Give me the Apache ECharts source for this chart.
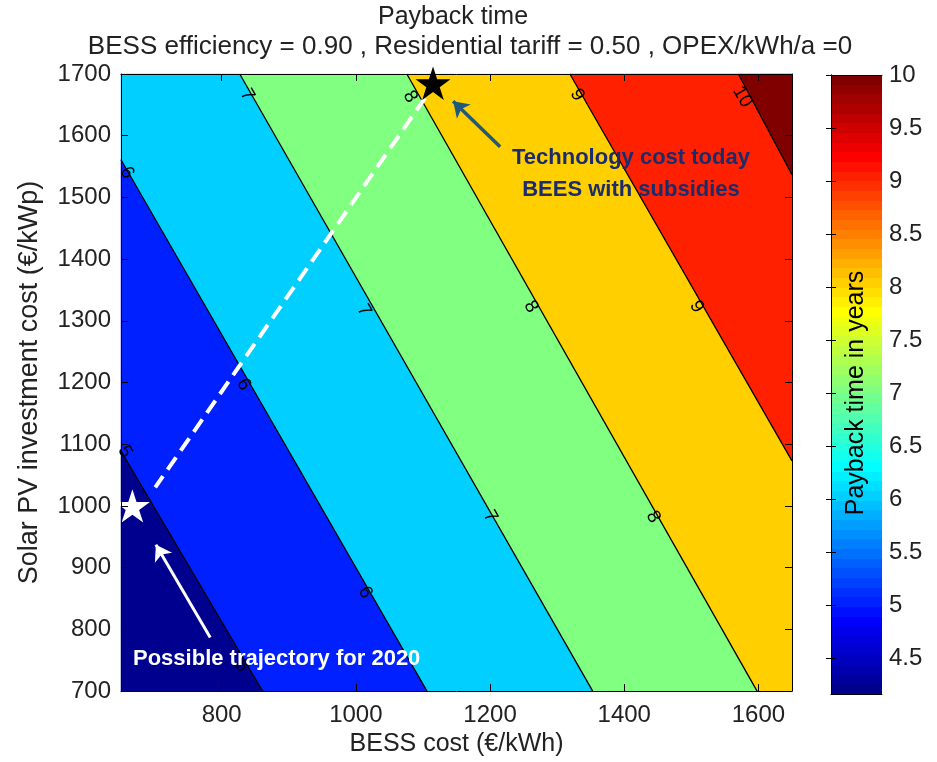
<!DOCTYPE html>
<html><head><meta charset="utf-8">
<script src="https://cdn.jsdelivr.net/npm/echarts@6/dist/echarts.min.js"></script>
<style>html,body{margin:0;padding:0;background:#fff}#c{width:937px;height:762px}</style>
</head><body><div id="c"></div>
<script>
// ---------------- data ----------------
const bessRange = [650, 1650];          // BESS cost (€/kWh)
const pvRange = [700, 1700];            // Solar PV investment cost (€/kWp)
const xTicks = [800, 1000, 1200, 1400, 1600];
const yTicks = [700, 800, 900, 1000, 1100, 1200, 1300, 1400, 1500, 1600, 1700];
const colorbarRange = [4.16, 10];
const colorbarTicks = [4.5, 5, 5.5, 6, 6.5, 7, 7.5, 8, 8.5, 9, 9.5, 10];
const contourLevels = [5, 6, 7, 8, 9, 10];
// contour lines (start on left/top edge, end on bottom/right edge)
const contour5 = [[650, 1089], [861, 700]];
const contour6 = [[650, 1561], [1106, 700]];
const contour7 = [[827, 1700], [1353, 700]];
const contour8 = [[1076, 1700], [1598, 700]];
const contour9 = [[1319, 1700], [1650, 1073]];
const contour10 = [[1570, 1700], [1650, 1537]];
// contour labels: [BESS cost, PV cost, level]
const contourLabels = [
  [656, 1088, 5], [830, 741, 5],
  [659, 1540, 6], [833, 1197, 6], [1014, 860, 6],
  [838, 1666, 7], [1012, 1317, 7], [1200, 983, 7],
  [1081, 1663, 8], [1261, 1323, 8], [1443, 982, 8],
  [1330, 1666, 9], [1508, 1323, 9],
  [1576, 1663, 10]
];
const todayPoint = [1115, 1685];
const point2020 = [667, 1000];
const trajectory = [[1103, 1661], [701, 1030]];
const arrowToday = [[1215, 1582], [1145, 1656]];
const arrow2020 = [[783, 787], [702, 937]];
const noteTodayPos = [1410, 1538];
const note2020Pos = [882, 752];
const noteToday = 'Technology cost today\nBEES with subsidies';
const note2020 = 'Possible trajectory for 2020';
const titleLine1 = 'Payback time';
const titleLine2 = 'BESS efficiency = 0.90 , Residential tariff = 0.50 , OPEX/kWh/a =0';

// ---------------- helpers ----------------
function jet(m) {
  const n = Math.ceil(m / 4), u = [];
  for (let k = 1; k <= n; k++) u.push(k / n);
  for (let k = 1; k < n; k++) u.push(1);
  for (let k = n; k >= 1; k--) u.push(k / n);
  const g0 = Math.ceil(n / 2) - (m % 4 === 1 ? 1 : 0);
  const J = Array.from({length: m}, () => [0, 0, 0]);
  for (let k = 0; k < u.length; k++) {
    const g = g0 + k + 1, r = g + n, b = g - n;
    if (r <= m) J[r - 1][0] = u[k];
    if (g <= m) J[g - 1][1] = u[k];
    if (b > 0 && b <= m) J[b - 1][2] = u[k];
  }
  return J.map(c => 'rgb(' + c.map(v => Math.round(v * 255)).join(',') + ')');
}
const CMAP = jet(64);
function cmapColor(v) {
  const t = (v - colorbarRange[0]) / (colorbarRange[1] - colorbarRange[0]);
  const idx = Math.min(64, Math.floor(t * 64) + 1);
  return CMAP[Math.max(1, idx) - 1];
}

const [X0, X1] = bessRange, [Y0, Y1] = pvRange;
const W = X1 - X0, H = Y1 - Y0, TOTAL = 2 * (W + H);
const corners = [
  {p: 0, pt: [X0, Y0]}, {p: W, pt: [X1, Y0]},
  {p: W + H, pt: [X1, Y1]}, {p: 2 * W + H, pt: [X0, Y1]}
];
function perim(pt) {
  const [x, y] = pt, e = 1e-6;
  if (Math.abs(y - Y0) < e) return x - X0;
  if (Math.abs(x - X1) < e) return W + (y - Y0);
  if (Math.abs(y - Y1) < e) return W + H + (X1 - x);
  return 2 * W + H + (Y1 - y);
}
function walk(pa, pb) {
  const d = ((pb - pa) % TOTAL + TOTAL) % TOTAL;
  return corners.map(c => ({dc: ((c.p - pa) % TOTAL + TOTAL) % TOTAL, pt: c.pt}))
    .filter(c => c.dc > 0 && c.dc < d).sort((a, b) => a.dc - b.dc).map(c => c.pt);
}
const contours = [contour5, contour6, contour7, contour8, contour9, contour10];
const bandPolygons = [], bandColors = [];
for (let i = 0; i <= contours.length; i++) {
  const L = i > 0 ? contours[i - 1] : null;
  const U = i < contours.length ? contours[i] : null;
  let poly;
  if (L && U) {
    poly = [...L, ...walk(perim(L[L.length - 1]), perim(U[U.length - 1])),
            ...U.slice().reverse(), ...walk(perim(U[0]), perim(L[0]))];
  } else if (U) {
    poly = [...U.slice().reverse(), ...walk(perim(U[0]), perim(U[U.length - 1]))];
  } else {
    poly = [...L, ...walk(perim(L[L.length - 1]), perim(L[0]))];
  }
  bandPolygons.push(poly);
  bandColors.push(cmapColor(i === 0 ? colorbarRange[0] : contourLevels[i - 1]));
}

const FONT = 'Liberation Sans, Arial, Helvetica, sans-serif';
const TXT = '#222';
const STAR = 'path://M50,0 L61.2,34.5 L97.6,34.5 L68.2,55.9 L79.4,90.5 L50,69.1 L20.6,90.5 L31.8,55.9 L2.4,34.5 L38.8,34.5 Z';
const plain = v => String(v);

const gradStops = [];
CMAP.forEach((c, i) => { gradStops.push({offset: i / 64, color: c}); gradStops.push({offset: (i + 1) / 64, color: c}); });

const chart = echarts.init(document.getElementById('c'), null, {renderer: 'canvas'});
const tickCommon = {show: true, inside: true, length: 7, lineStyle: {color: '#000', width: 1}};
const lineCommon = {show: true, lineStyle: {color: '#000', width: 1}};

const series = [
  {
    type: 'custom', xAxisIndex: 0, yAxisIndex: 0, clip: false, z: 1,
    data: bandPolygons.map((p, i) => [X0, Y0, i]),
    renderItem: (params, api) => {
      const poly = bandPolygons[params.dataIndex];
      return {type: 'polygon', shape: {points: poly.map(p => api.coord(p))},
        style: {fill: bandColors[params.dataIndex], stroke: bandColors[params.dataIndex], lineWidth: 0.5}};
    }
  }
];
contours.forEach(c => series.push({
  type: 'line', xAxisIndex: 0, yAxisIndex: 0, data: c, symbol: 'none', z: 3,
  lineStyle: {color: '#000', width: 1.3}, silent: true
}));
series.push({
  type: 'scatter', xAxisIndex: 0, yAxisIndex: 0, data: contourLabels, symbolSize: 1, z: 4, clip: false,
  itemStyle: {color: 'rgba(0,0,0,0)', opacity: 1},
  label: {show: true, position: 'inside', rotate: -60, formatter: p => String(p.value[2]),
    fontSize: 19, color: '#000', fontFamily: FONT}
});
series.push({
  type: 'line', xAxisIndex: 0, yAxisIndex: 0, data: trajectory, symbol: 'none', z: 5,
  lineStyle: {color: '#fff', width: 4, type: [15, 8], opacity: 1}
});
series.push({
  type: 'lines', coordinateSystem: 'cartesian2d', xAxisIndex: 0, yAxisIndex: 0, z: 6,
  symbol: ['none', 'arrow'], symbolSize: 15,
  data: [
    {coords: arrow2020, lineStyle: {color: '#fff', width: 3, opacity: 1}},
    {coords: arrowToday, lineStyle: {color: '#1f5a7c', width: 3.5, opacity: 1}}
  ]
});
series.push({
  type: 'scatter', xAxisIndex: 0, yAxisIndex: 0, z: 7, clip: false, symbol: STAR, symbolSize: 35,
  symbolKeepAspect: true,
  data: [{value: todayPoint, itemStyle: {color: '#000', opacity: 1}},
         {value: point2020, itemStyle: {color: '#fff', opacity: 1}}]
});
series.push({
  type: 'scatter', xAxisIndex: 0, yAxisIndex: 0, z: 8, clip: false, symbolSize: 1,
  itemStyle: {color: 'rgba(0,0,0,0)', opacity: 1},
  data: [
    {value: noteTodayPos, label: {formatter: noteToday, color: '#1b2c6c', lineHeight: 32}},
    {value: note2020Pos, label: {formatter: note2020, color: '#fff'}}
  ],
  label: {show: true, position: 'inside', fontSize: 22, fontWeight: 'bold', fontFamily: FONT, align: 'center'}
});
// colorbar
series.push({
  type: 'custom', xAxisIndex: 2, yAxisIndex: 2, clip: false, z: 1,
  data: [[0, colorbarRange[0]]],
  renderItem: (params, api) => {
    const a = api.coord([0, colorbarRange[0]]), b = api.coord([1, colorbarRange[1]]);
    return {type: 'rect', shape: {x: a[0], y: b[1], width: b[0] - a[0], height: a[1] - b[1]},
      style: {fill: new echarts.graphic.LinearGradient(0, 1, 0, 0, gradStops)}};
  }
});
series.push({
  type: 'scatter', xAxisIndex: 2, yAxisIndex: 2, z: 5, symbolSize: 1, clip: false,
  itemStyle: {color: 'rgba(0,0,0,0)', opacity: 1},
  data: [[0.5, 7.0]],
  label: {show: true, position: 'inside', rotate: 90, formatter: 'Payback time in years',
    fontSize: 25, color: '#000', fontFamily: FONT}
});

const option = {
  animation: false,
  backgroundColor: '#fff',
  title: [
    {text: titleLine1, left: 453, top: 5, padding: 0, textAlign: 'center',
     textStyle: {fontSize: 25, fontWeight: 'normal', color: TXT, fontFamily: FONT}},
    {text: titleLine2, left: 470, top: 34, padding: 0, textAlign: 'center',
     textStyle: {fontSize: 26, fontWeight: 'normal', color: TXT, fontFamily: FONT}}
  ],
  grid: [
    {left: 121, right: 145, top: 74, bottom: 70, show: false},
    {left: 831, width: 51, top: 75, height: 619, show: false}
  ],
  xAxis: [
    {type: 'value', gridIndex: 0, min: X0, max: X1, position: 'bottom',
     name: 'BESS cost (€/kWh)', nameLocation: 'middle', nameGap: 38,
     nameTextStyle: {fontSize: 25, color: TXT, fontFamily: FONT},
     axisLine: lineCommon, axisTick: Object.assign({customValues: xTicks}, tickCommon),
     axisLabel: {customValues: xTicks, formatter: plain, fontSize: 24, color: TXT, fontFamily: FONT, margin: 12},
     splitLine: {show: false}, z: 10},
    {type: 'value', gridIndex: 0, min: X0, max: X1, position: 'top',
     axisLine: lineCommon, axisTick: Object.assign({customValues: xTicks}, tickCommon),
     axisLabel: {show: false}, splitLine: {show: false}, z: 10},
    {type: 'value', gridIndex: 1, min: 0, max: 1, position: 'bottom',
     axisLine: lineCommon, axisTick: {show: false}, axisLabel: {show: false}, splitLine: {show: false}, z: 10},
    {type: 'value', gridIndex: 1, min: 0, max: 1, position: 'top',
     axisLine: lineCommon, axisTick: {show: false}, axisLabel: {show: false}, splitLine: {show: false}, z: 10}
  ],
  yAxis: [
    {type: 'value', gridIndex: 0, min: Y0, max: Y1, interval: 100, position: 'left',
     name: 'Solar PV investment cost (€/kWp)', nameLocation: 'middle', nameGap: 78, nameRotate: 90,
     nameTextStyle: {fontSize: 27, color: TXT, fontFamily: FONT},
     axisLine: lineCommon, axisTick: tickCommon,
     axisLabel: {customValues: yTicks, formatter: plain, fontSize: 24, color: TXT, fontFamily: FONT, margin: 10},
     splitLine: {show: false}, z: 10},
    {type: 'value', gridIndex: 0, min: Y0, max: Y1, interval: 100, position: 'right',
     axisLine: lineCommon, axisTick: tickCommon, axisLabel: {show: false}, splitLine: {show: false}, z: 10},
    {type: 'value', gridIndex: 1, min: colorbarRange[0], max: colorbarRange[1], position: 'right',
     axisLine: lineCommon, axisTick: Object.assign({customValues: colorbarTicks}, tickCommon, {length: 5}),
     axisLabel: {customValues: colorbarTicks, formatter: plain, fontSize: 24, color: TXT, fontFamily: FONT, margin: 7},
     splitLine: {show: false}, z: 10},
    {type: 'value', gridIndex: 1, min: colorbarRange[0], max: colorbarRange[1], position: 'left',
     axisLine: lineCommon, axisTick: Object.assign({customValues: colorbarTicks}, tickCommon, {length: 5}),
     axisLabel: {show: false}, splitLine: {show: false}, z: 10}
  ],
  series: series
};
chart.setOption(option);
</script>
</body></html>
